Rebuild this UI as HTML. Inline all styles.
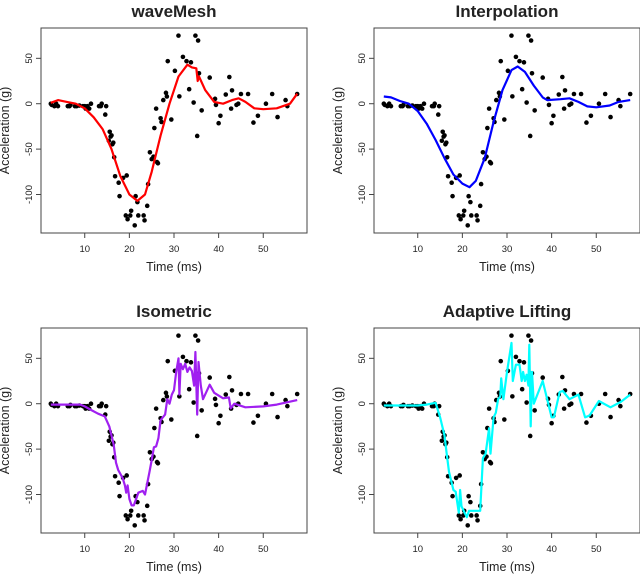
<!DOCTYPE html>
<html><head><meta charset="utf-8"><style>
html,body{margin:0;padding:0;background:#fff}
svg{display:block}
text{font-family:"Liberation Sans",sans-serif;fill:#222}
</style></head><body>
<svg id="fig" width="640" height="575" viewBox="0 0 640 575"></svg>
<script>
const times=[2.4,2.6,3.2,3.6,4.0,6.2,6.6,6.8,7.8,8.2,8.8,9.6,10.0,10.2,10.6,11.0,11.4,13.2,13.6,13.8,14.6,14.8,15.4,15.6,15.8,16.0,16.2,16.4,16.6,16.8,17.6,17.8,18.6,19.2,19.4,19.6,20.2,20.4,21.2,21.4,21.8,22.0,23.2,23.4,24.0,24.2,24.6,25.0,25.4,25.6,26.0,26.2,26.4,27.0,27.2,27.6,28.2,28.4,28.6,29.4,30.2,31.0,31.2,32.0,32.8,33.4,33.8,34.4,34.8,35.2,35.4,35.6,36.2,38.0,39.2,39.4,40.0,40.4,41.6,42.4,42.8,43.0,44.0,44.4,45.0,46.6,47.8,48.8,50.6,52.0,53.2,55.0,55.4,57.6];
const accel=[0.0,-1.3,-2.7,0.0,-2.7,-2.7,-2.7,-1.3,-2.7,-2.7,-2.0,-2.7,-2.7,-5.4,-2.7,-5.4,0.0,-2.7,-2.7,0.0,-12.0,-2.7,-40.8,-30.9,-36.2,-34.9,-44.7,-42.9,-59.0,-79.9,-87.0,-101.8,-81.7,-123.1,-79.0,-127.2,-123.1,-117.9,-134.0,-101.9,-108.4,-123.1,-123.1,-128.5,-112.5,-88.5,-53.5,-61.0,-58.3,-26.8,-5.4,-64.3,-65.6,-16.0,-20.1,4.0,12.0,8.0,46.9,-17.4,36.2,75.0,8.1,51.6,46.9,16.0,45.6,1.3,75.0,-35.5,69.6,33.5,-7.4,28.8,5.4,-1.3,-21.5,-13.3,10.1,29.4,-5.4,14.7,-1.3,0.0,10.7,10.7,-20.8,-13.3,0.0,10.7,-14.7,4.0,-2.7,10.7];
const xTicks=[10,20,30,40,50];
const yTicks=[-100,-50,0,50];
const waveMesh=[[2.4,1],[4,4],[6,2],[8,0],[10,-5],[12,-15],[14,-28],[16,-50],[18,-80],[20,-100],[21.8,-107],[23.5,-100],[25,-75],[27,-35],[29,0],[31,30],[33,43],[34,40],[35,39],[35.3,25],[35.6,30],[37,15],[39,2],[41,0],[43,4],[44.5,6],[46,2],[48,-5],[50,-6],[53,-5],[56,0],[57.6,11]];
const interp=[[2.4,8],[4,7],[6,3],[8,0],[10,-8],[12,-22],[14,-40],[16,-60],[18,-78],[20,-88],[21.6,-92],[23,-85],[25,-60],[27,-20],[29,15],[31,37],[32.4,41],[34,35],[36,20],[38,7],[39,4],[42,5],[44,6],[46,2],[48,-3],[50,-4],[53,-2],[55,2],[57.6,4]];
const isometric=[[2.4,-1],[5,-1],[9,-1],[10,-3],[11.5,-7],[13,-11],[14.5,-14],[15.5,-25],[16.5,-45],[17,-65],[17.5,-73],[18.5,-82],[19,-90],[19.3,-98],[19.6,-90],[20,-105],[20.5,-112],[21,-112],[21.5,-105],[22,-98],[23,-96],[23.5,-100],[24.5,-75],[25,-62],[25.5,-48],[26,-47],[26.5,-38],[27,-18],[28,-12],[28.5,5],[29,0],[29.5,10],[30,15],[30.5,35],[31,50],[31.2,10],[31.5,44],[32,38],[32.5,44],[33,35],[33.5,40],[34,36],[34.5,20],[34.8,57],[35.2,-12],[35.5,46],[36,20],[36.5,5],[38,21],[39,12],[41,6],[42.3,7],[42.7,-5],[43.5,0],[46,-4],[50,-3],[53,-1],[57.6,4]];
const adaptive=[[2.4,-2],[10,-2],[12,-1],[14,1],[15,-15],[16,-35],[16.5,-55],[17,-75],[18,-95],[18.5,-97],[19.2,-120],[19.5,-95],[19.8,-113],[21,-125],[21.5,-118],[24,-118],[24.6,-60],[25.2,-55],[26,-27],[26.3,-55],[27,-15],[27.5,-10],[28,5],[28.5,8],[28.7,28],[29.2,5],[30,35],[31,67],[31.3,25],[32,43],[32.8,43],[33.3,25],[33.6,35],[34,25],[34.4,32],[34.8,20],[35,65],[35.3,-25],[35.6,35],[36,0],[38,25],[40,-15],[40.5,-15],[41.8,13],[42.5,14],[44,5],[46,10],[47.5,-15],[48.5,-13],[50.6,3],[53.2,-4],[55.5,2],[57.6,10]];

const NS="http://www.w3.org/2000/svg";
const svg=document.getElementById('fig');
function mk(tag,attrs,parent){const e=document.createElementNS(NS,tag);for(const k in attrs)e.setAttribute(k,attrs[k]);parent.appendChild(e);return e;}
const X0=0.2,X1=59.8,Y0=-142.4,Y1=83.4;
const panels=[
 {title:'waveMesh',left:41,top:28,curve:waveMesh,color:'#ff0000',name:'wavemesh'},
 {title:'Interpolation',left:374,top:28,curve:interp,color:'#0000ff',name:'interpolation'},
 {title:'Isometric',left:41,top:328,curve:isometric,color:'#a020f0',name:'isometric'},
 {title:'Adaptive Lifting',left:374,top:328,curve:adaptive,color:'#00ffff',name:'adaptive-lifting'}];
const W=266,H=205;
panels.forEach(p=>{
 const g=mk('g',{},svg);
 
 
 const sx=v=>p.left+(v-X0)/(X1-X0)*W;
 const sy=v=>p.top+H-(v-Y0)/(Y1-Y0)*H;
 const t=mk('text',{x:p.left+W/2,y:p.top-11,'text-anchor':'middle','font-size':'17','font-weight':'bold'},g);
 t.textContent=p.title;
 
 
 const box=mk('rect',{x:p.left,y:p.top,width:W,height:H,fill:'none',stroke:'#444','stroke-width':'1'},g);
 
 
 xTicks.forEach(v=>{
  mk('line',{x1:sx(v),x2:sx(v),y1:p.top+H,y2:p.top+H+5,stroke:'#444'},g);
  const tl=mk('text',{x:sx(v),y:p.top+H+19,'text-anchor':'middle','font-size':'9.5'},g);
  tl.textContent=v;
  
  
 });
 yTicks.forEach(v=>{
  mk('line',{x1:p.left-5,x2:p.left,y1:sy(v),y2:sy(v),stroke:'#444'},g);
  const tl=mk('text',{x:p.left-9,y:sy(v),'text-anchor':'middle','font-size':'9.5',transform:`rotate(-90 ${p.left-9} ${sy(v)})`},g);
  tl.textContent=v;
  
  
 });
 const xl=mk('text',{x:p.left+W/2,y:p.top+H+38,'text-anchor':'middle','font-size':'12.5'},g);
 xl.textContent='Time (ms)';
 
 
 const yx=p.left-32, yy=p.top+H/2;
 const yl=mk('text',{x:yx,y:yy,'text-anchor':'middle','font-size':'12.5',transform:`rotate(-90 ${yx} ${yy})`},g);
 yl.textContent='Acceleration (g)';
 
 
 times.forEach((tv,i)=>{
  const c=mk('circle',{cx:sx(tv),cy:sy(accel[i]),r:2.3,fill:'#000'},g);
  
  
 });
 const d=p.curve.map((q,i)=>(i?'L':'M')+sx(q[0]).toFixed(1)+' '+sy(q[1]).toFixed(1)).join(' ');
 const path=mk('path',{d:d,fill:'none',stroke:p.color,'stroke-width':'2.2','stroke-linejoin':'round'},g);
 
 
});
</script>
</body></html>
